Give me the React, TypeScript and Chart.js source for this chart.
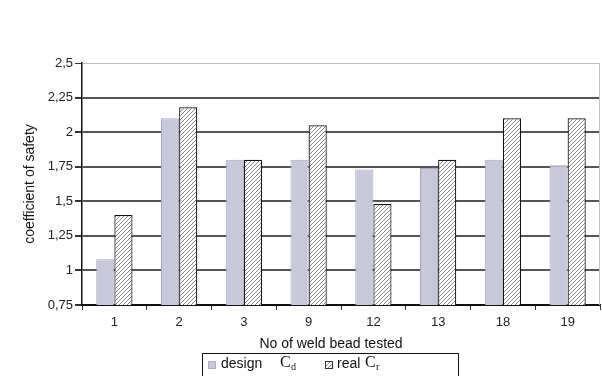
import React, { useEffect, useRef } from "react";
import { Chart, registerables } from "chart.js";

Chart.register(...registerables);

const categories = ["1", "2", "3", "9", "12", "13", "18", "19"];
const designValues = [1.08, 2.1, 1.8, 1.8, 1.73, 1.74, 1.8, 1.76];
const realValues = [1.4, 2.18, 1.8, 2.05, 1.48, 1.8, 2.1, 2.1];
const yMin = 0.75;
const yMax = 2.5;
const yStep = 0.25;

function makeHatch(): CanvasPattern | string {
  const c = document.createElement("canvas");
  c.width = 4;
  c.height = 4;
  const g = c.getContext("2d");
  if (!g) return "#ccc";
  g.fillStyle = "#ffffff";
  g.fillRect(0, 0, 4, 4);
  g.strokeStyle = "#7a7a7a";
  g.lineWidth = 0.9;
  g.beginPath();
  g.moveTo(-1, 5);
  g.lineTo(5, -1);
  g.moveTo(-1, 1);
  g.lineTo(1, -1);
  g.moveTo(3, 5);
  g.lineTo(5, 3);
  g.stroke();
  const p = g.createPattern(c, "repeat");
  return p || "#ccc";
}

const decorPlugin = {
  id: "decor",
  afterDraw(chart: any) {
    const { ctx, chartArea } = chart;
    ctx.save();
    // right border
    ctx.strokeStyle = "#c0c0c0";
    ctx.lineWidth = 1;
    ctx.beginPath();
    ctx.moveTo(chartArea.right - 0.5, chartArea.top);
    ctx.lineTo(chartArea.right - 0.5, chartArea.bottom);
    ctx.stroke();

    // x axis title
    ctx.fillStyle = "#111";
    ctx.font = "14px 'Liberation Sans', Arial, sans-serif";
    ctx.textAlign = "center";
    ctx.textBaseline = "middle";
    ctx.fillText("No of weld bead tested", 331, 344);

    // legend box
    ctx.strokeStyle = "#111";
    ctx.lineWidth = 1;
    ctx.beginPath();
    ctx.moveTo(202.5, 380);
    ctx.lineTo(202.5, 353.5);
    ctx.lineTo(458.5, 353.5);
    ctx.lineTo(458.5, 380);
    ctx.stroke();

    // swatch 1
    ctx.fillStyle = "#c8c8dc";
    ctx.fillRect(208, 361, 8, 8);
    ctx.strokeStyle = "#999";
    ctx.setLineDash([1, 1]);
    ctx.strokeRect(208.5, 361.5, 7, 7);
    ctx.setLineDash([]);
    ctx.fillStyle = "#111";
    ctx.textAlign = "left";
    ctx.font = "14px 'Liberation Sans', Arial, sans-serif";
    ctx.fillText("design", 221, 364);
    ctx.font = "16px 'Liberation Serif', 'Times New Roman', serif";
    ctx.fillText("C", 280, 363);
    ctx.font = "10px 'Liberation Serif', 'Times New Roman', serif";
    ctx.fillText("d", 291, 367);

    // swatch 2
    ctx.fillStyle = chart.$hatch || "#ddd";
    ctx.fillRect(325, 361, 8, 8);
    ctx.strokeStyle = "#333";
    ctx.strokeRect(325.5, 361.5, 7, 7);
    ctx.fillStyle = "#111";
    ctx.font = "14px 'Liberation Sans', Arial, sans-serif";
    ctx.fillText("real", 337, 364);
    ctx.font = "16px 'Liberation Serif', 'Times New Roman', serif";
    ctx.fillText("C", 365, 363);
    ctx.font = "10px 'Liberation Serif', 'Times New Roman', serif";
    ctx.fillText("r", 376, 367);
    ctx.restore();
  },
};

export default function App() {
  const ref = useRef<HTMLCanvasElement | null>(null);
  useEffect(() => {
    document.body.style.margin = "0";
    if (!ref.current) return;
    const hatch = makeHatch();
    const chart: any = new Chart(ref.current, {
      type: "bar",
      data: {
        labels: categories,
        datasets: [
          {
            label: "design",
            data: designValues,
            backgroundColor: "#c8c8dc",
            borderColor: "#a8a8b8",
            borderWidth: 1,
            categoryPercentage: 0.56,
            barPercentage: 1,
          },
          {
            label: "real",
            data: realValues,
            backgroundColor: hatch as any,
            borderColor: "#111111",
            borderWidth: 1.2,
            categoryPercentage: 0.56,
            barPercentage: 1,
          },
        ],
      },
      options: {
        animation: false,
        responsive: false,
        maintainAspectRatio: false,
        layout: { padding: { top: 63, right: 2, left: 0, bottom: 0 } },
        plugins: {
          legend: { display: false },
          tooltip: { enabled: false },
          title: { display: false },
        },
        scales: {
          x: {
            grid: {
              offset: true,
              drawOnChartArea: false,
              drawTicks: true,
              tickLength: 5,
              tickColor: "#333",
            },
            border: { display: true, color: "#111", width: 1.5 },
            ticks: {
              color: "#222",
              font: { family: "'Liberation Sans', Arial, sans-serif", size: 13 },
              padding: 5,
            },
            afterFit: (scale: any) => {
              scale.height = 71;
            },
          },
          y: {
            min: yMin,
            max: yMax,
            ticks: {
              stepSize: yStep,
              color: "#222",
              padding: 2,
              font: { family: "'Liberation Sans', Arial, sans-serif", size: 13 },
              callback: (v: any) => String(Number(v)).replace(".", ","),
            },
            grid: {
              color: (c: any) =>
                c.tick && c.tick.value === yMax
                  ? "#c0c0c0"
                  : c.tick && c.tick.value === yMin
                  ? "#111"
                  : "#555",
              lineWidth: (c: any) => (c.tick && c.tick.value === yMax ? 1 : 2),
              tickLength: 7,
              tickColor: "#333",
            },
            border: { display: true, color: "#111", width: 1.5 },
            title: {
              display: true,
              text: "coefficient of safety",
              color: "#111",
              font: { family: "'Liberation Sans', Arial, sans-serif", size: 14 },
              padding: { top: 22, bottom: 0 },
            },
            afterFit: (scale: any) => {
              scale.width = 82;
            },
          },
        },
      },
      plugins: [decorPlugin],
    });
    chart.$hatch = hatch;
    chart.draw();
    return () => chart.destroy();
  }, []);
  return (
    <div style={{ position: "absolute", left: 0, top: 0, width: 602, height: 376, background: "#fff" }}>
      <canvas ref={ref} width={602} height={376} style={{ width: 602, height: 376, display: "block" }} />
    </div>
  );
}
